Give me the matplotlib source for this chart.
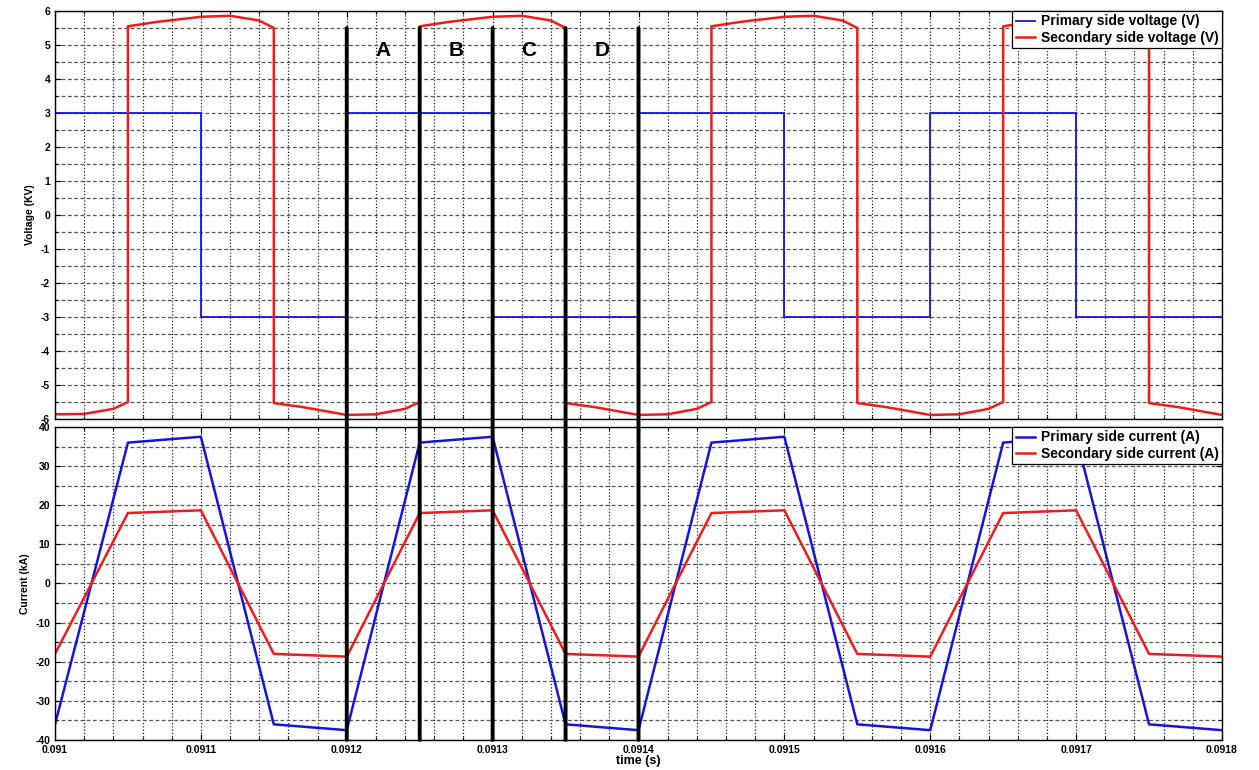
import matplotlib
matplotlib.use('Agg')
import matplotlib.pyplot as plt
from matplotlib.patches import ConnectionPatch
import numpy as np

plt.rcParams['font.family'] = ['Liberation Sans', 'DejaVu Sans']
plt.rcParams['font.weight'] = 'bold'
plt.rcParams['axes.unicode_minus'] = False

# ---- data ----
# primary voltage: square wave, one value per 0.0001 s interval
t_edges = [0.0910, 0.0911, 0.0912, 0.0913, 0.0914, 0.0915, 0.0916, 0.0917, 0.0918]
v_primary = [3, -3, 3, -3, 3, -3, 3, -3]

# secondary voltage breakpoints (kV)
t_v2 = [0.09100, 0.09102, 0.09104, 0.09105,
        0.09105, 0.09107, 0.09110, 0.09112, 0.09114, 0.09115,
        0.09115, 0.09117, 0.09120, 0.09122, 0.09124, 0.09125,
        0.09125, 0.09127, 0.09130, 0.09132, 0.09134, 0.09135,
        0.09135, 0.09137, 0.09140, 0.09142, 0.09144, 0.09145,
        0.09145, 0.09147, 0.09150, 0.09152, 0.09154, 0.09155,
        0.09155, 0.09157, 0.09160, 0.09162, 0.09164, 0.09165,
        0.09165, 0.09167, 0.09170, 0.09172, 0.09174, 0.09175,
        0.09175, 0.09177, 0.09180]
v_secondary = [-5.86, -5.85, -5.70, -5.50,
               5.55, 5.68, 5.83, 5.86, 5.72, 5.50,
               -5.53, -5.65, -5.88, -5.86, -5.70, -5.50,
               5.55, 5.68, 5.83, 5.86, 5.72, 5.50,
               -5.53, -5.65, -5.88, -5.86, -5.70, -5.50,
               5.55, 5.68, 5.83, 5.86, 5.72, 5.50,
               -5.53, -5.65, -5.88, -5.86, -5.70, -5.50,
               5.55, 5.68, 5.83, 5.86, 5.72, 5.50,
               -5.53, -5.65, -5.88]

# currents (kA)
t_cur = [0.09100, 0.09105, 0.09110, 0.09115, 0.09120, 0.09125, 0.09130, 0.09135,
         0.09140, 0.09145, 0.09150, 0.09155, 0.09160, 0.09165, 0.09170, 0.09175, 0.09180]
i_primary = [-36, 36, 37.5, -36, -37.5, 36, 37.5, -36,
             -37.5, 36, 37.5, -36, -37.5, 36, 37.5, -36, -37.5]
i_secondary = [-18, 18, 18.7, -18, -18.7, 18, 18.7, -18,
               -18.7, 18, 18.7, -18, -18.7, 18, 18.7, -18, -18.7]

# interval markers
mark_t = [0.0912, 0.09125, 0.0913, 0.09135, 0.0914]
mark_labels = ['A', 'B', 'C', 'D']

x_ticks = [0.0910, 0.0911, 0.0912, 0.0913, 0.0914, 0.0915, 0.0916, 0.0917, 0.0918]
x_ticklabels = ['0.091', '0.0911', '0.0912', '0.0913', '0.0914', '0.0915', '0.0916', '0.0917', '0.0918']
v_ticks = list(range(-6, 7))
i_ticks = list(range(-40, 41, 10))

blue = '#1414dc'
red = '#ee1c1c'
tick_fs = 7.5

fig = plt.figure(figsize=(12.59, 7.70), dpi=100)
ax1 = fig.add_axes([0.0437, 0.4558, 0.9269, 0.5299])
ax2 = fig.add_axes([0.0437, 0.0390, 0.9269, 0.4065])


def style_axes(ax, yticks, yminor):
    ax.set_xlim(x_ticks[0], x_ticks[-1])
    ax.set_xticks(x_ticks)
    ax.set_xticks(np.linspace(x_ticks[0], x_ticks[-1], 41), minor=True)
    ax.set_yticks(yticks)
    ax.set_yticks(yminor, minor=True)
    ax.set_ylim(yticks[0], yticks[-1])
    ax.tick_params(which='both', direction='in', top=True, right=True,
                   labelsize=tick_fs, length=4, width=0.8)
    ax.tick_params(which='minor', length=2.5)
    ax.grid(True, which='both', axis='x', color='#222222', linestyle=(0, (1, 1.6)), linewidth=0.9)
    ax.grid(True, which='both', axis='y', color='#555555', linestyle=(0, (3, 2)), linewidth=0.9)
    ax.set_axisbelow(True)
    for s in ax.spines.values():
        s.set_linewidth(1.0)


def add_legend(ax):
    leg = ax.legend(loc='upper right', borderaxespad=0, fancybox=False, edgecolor='black',
                    framealpha=1, fontsize=10, handlelength=1.4, handletextpad=0.4,
                    borderpad=0.25, labelspacing=0.15)
    leg.get_frame().set_linewidth(0.9)
    return leg


# top: voltages
style_axes(ax1, v_ticks, np.arange(-6, 6.01, 0.5))
ax1.set_xticklabels([])
ax1.stairs(v_primary, t_edges, baseline=None, color=blue, linewidth=1.3,
           label='Primary side voltage (V)')
ax1.plot(t_v2, v_secondary, color=red, linewidth=1.8, label='Secondary side voltage (V)')
ax1.set_ylabel('Voltage (KV)', fontsize=tick_fs, fontweight='bold')
add_legend(ax1)

# bottom: currents
style_axes(ax2, i_ticks, np.arange(-40, 40.1, 5))
ax2.set_xticklabels(x_ticklabels)
ax2.plot(t_cur, i_primary, color=blue, linewidth=1.8, label='Primary side current (A)')
ax2.plot(t_cur, i_secondary, color=red, linewidth=1.8, label='Secondary side current (A)')
ax2.set_ylabel('Current (kA)', fontsize=tick_fs, fontweight='bold')
ax2.set_xlabel('time (s)', fontsize=9, fontweight='bold', labelpad=0)
add_legend(ax2)

# interval marker lines spanning both panels
for t in mark_t:
    con = ConnectionPatch(xyA=(t, 5.5), coordsA=ax1.transData,
                          xyB=(t, -40), coordsB=ax2.transData,
                          color='black', linewidth=2.8, zorder=5)
    fig.add_artist(con)

for k, lab in enumerate(mark_labels):
    xm = (mark_t[k] + mark_t[k + 1]) / 2
    ax1.text(xm, 4.85, lab, ha='center', va='center', fontsize=15, fontweight='bold')

fig.savefig('out.png', dpi=100)
